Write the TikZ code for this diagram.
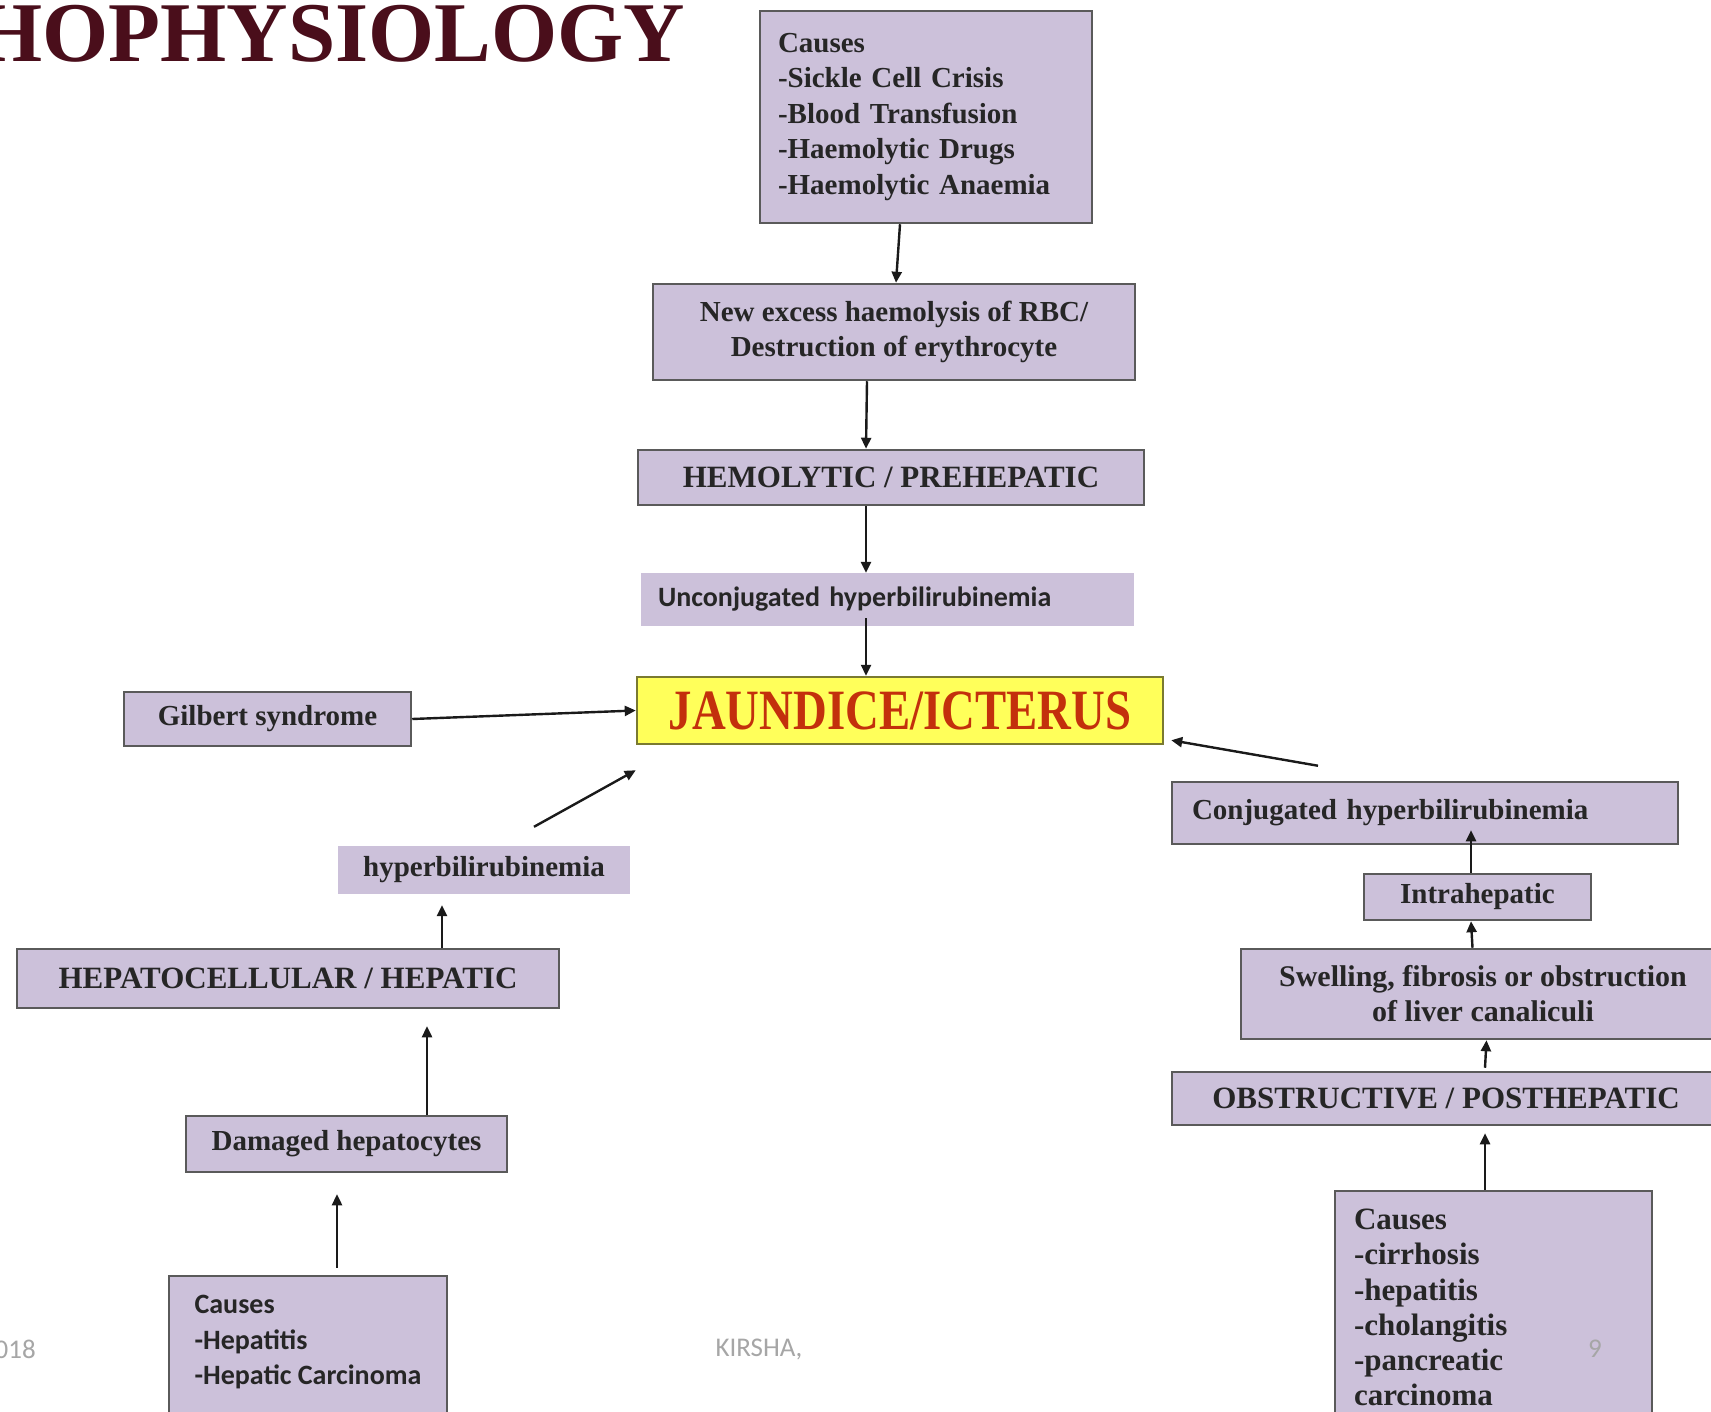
\documentclass[tikz,border=0pt]{standalone}
\usepackage{fontspec}
\setmainfont{Liberation Serif}
\newfontfamily\calib{Carlito}
\newfontfamily\narrowserif[FakeStretch=0.82]{Liberation Serif}
\usetikzlibrary{arrows.meta}
\definecolor{Lavender}   {HTML}{CCC1DA}
\definecolor{EdgeGray}   {HTML}{5A5A5A}
\definecolor{JaunYellow} {HTML}{FFFF5A}
\definecolor{JaunEdge}   {HTML}{7A7A30}
\definecolor{JaunRed}    {HTML}{C3300C}
\definecolor{TitleMaroon}{HTML}{4A0E1B}
\definecolor{FootGray}   {HTML}{A6A6A6}
\definecolor{ArrowBlack} {HTML}{1A1A1A}
\tikzset{
  pbox/.style={rectangle,draw=EdgeGray,line width=2.5pt,fill=Lavender,
               inner sep=0pt,align=center,text=black!85,
               font=\bfseries\fontsize{29}{35.5}\selectfont},
  hbox/.style={pbox,font=\bfseries\fontsize{31}{36}\selectfont},
  lbox/.style={rectangle,fill=Lavender,inner sep=0pt,text=black!85,
               font=\bfseries\fontsize{29}{35.5}\selectfont},
  sanstext/.style={font=\calib\bfseries\fontsize{28}{35.5}\selectfont},
  arr/.style={-{Triangle[length=11pt,width=10pt]},line width=2.4pt,color=ArrowBlack},
  foot/.style={font=\calib\fontsize{27}{30}\selectfont,text=FootGray,inner sep=0pt},
}

\begin{document}
\begin{tikzpicture}[x=1pt,y=-1pt]
  \fill[white] (0,0) rectangle (1711,1412);
  \useasboundingbox (0,0) rectangle (1711,1412);

  \node[font=\bfseries\fontsize{85}{90}\selectfont,text=TitleMaroon,
        anchor=east,inner sep=0pt] (title) at (685,34) {HOPHYSIOLOGY};

  % prehepatic column
  \node[pbox,align=left,text width=296pt,minimum width=332pt,minimum height=212pt]
    (causesTop) at (926,117)
    {Causes\\-Sickle Cell Crisis\\-Blood Transfusion\\-Haemolytic Drugs\\-Haemolytic Anaemia\\[-29pt]\mbox{}};
  \node[pbox,minimum width=482pt,minimum height=96pt] (newExcess) at (894,332)
    {New excess haemolysis of RBC/\\Destruction of erythrocyte};
  \node[hbox,minimum width=506pt,minimum height=55pt] (hemo) at (891,477.5)
    {HEMOLYTIC / PREHEPATIC};
  \node[lbox,sanstext,align=left,text width=459pt,minimum width=493pt,minimum height=53pt]
    (unconj) at (887.5,599.5) {Unconjugated hyperbilirubinemia};

  \node[rectangle,draw=JaunEdge,line width=2.5pt,fill=JaunYellow,inner sep=0pt,
        minimum width=526pt,minimum height=67pt,text=JaunRed,
        font=\narrowserif\bfseries\fontsize{57}{60}\selectfont]
    (jaundice) at (900,710.5) {JAUNDICE/ICTERUS};

  \node[pbox,minimum width=287pt,minimum height=54pt] (gilbert) at (267.5,719)
    {Gilbert syndrome};

  % hepatic column
  \node[lbox,minimum width=292pt,minimum height=48pt] (hyper) at (484,870)
    {hyperbilirubinemia};
  \node[hbox,minimum width=542pt,minimum height=59pt] (hepato) at (288,978.5)
    {HEPATOCELLULAR / HEPATIC};
  \node[pbox,sanstext,align=left,minimum width=278pt,minimum height=199pt]
    (causesLeft) at (308,1375.5)
    {Causes\\-Hepatitis\\-Hepatic Carcinoma\\\mbox{}\\\mbox{}};
  \node[pbox,minimum width=321pt,minimum height=56pt] (damaged) at (346.5,1144)
    {Damaged hepatocytes};

  % posthepatic column
  \node[pbox,align=left,text width=466pt,minimum width=506pt,minimum height=62pt]
    (conj) at (1425,813) {Conjugated hyperbilirubinemia};
  \node[pbox,minimum width=227pt,minimum height=46pt] (intra) at (1477.5,897)
    {Intrahepatic};
  \node[pbox,font=\bfseries\fontsize{30}{35}\selectfont,
        minimum width=484pt,minimum height=90pt] (swell) at (1483,994)
    {Swelling, fibrosis or obstruction\\of liver canaliculi};
  \node[hbox,minimum width=548pt,minimum height=53pt] (obstr) at (1446,1098.5)
    {OBSTRUCTIVE / POSTHEPATIC};
  \node[pbox,align=left,text width=279pt,minimum width=317pt,minimum height=268pt,
        font=\bfseries\fontsize{31}{35.2}\selectfont]
    (causesRight) at (1493.5,1325)
    {Causes\\-cirrhosis\\-hepatitis\\-cholangitis\\-pancreatic\\carcinoma\\\mbox{}};

  \draw[arr] ([xshift=-26pt]causesTop.south) -- ([xshift=2pt]newExcess.north);
  \draw[arr] ([xshift=-27pt]newExcess.south) -- ([xshift=-25pt]hemo.north);
  \draw[arr] ([xshift=-25pt]hemo.south) -- ([xshift=-21.5pt]unconj.north);
  \draw[arr] ([xshift=-21.5pt,yshift=8pt]unconj.south) -- ([xshift=-34pt]jaundice.north);
  \draw[arr] (gilbert.east) -- (jaundice.west);
  \draw[arr] ([xshift=50pt,yshift=19pt]hyper.north) -- ([yshift=-25pt]jaundice.south west);
  \draw[arr] ([xshift=154pt]hepato.north) -- ([xshift=-42pt,yshift=-11pt]hyper.south);
  \draw[arr] ([xshift=80.5pt]damaged.north) -- ([xshift=139pt,yshift=-17pt]hepato.south);
  \draw[arr] ([xshift=29pt,yshift=7pt]causesLeft.north) -- ([xshift=-9.5pt,yshift=-21pt]damaged.south);
  \draw[arr] ([xshift=-107pt,yshift=15pt]conj.north) -- ([xshift=7pt,yshift=5pt]jaundice.south east);
  \draw[arr] ([xshift=-6.5pt]intra.north) -- ([xshift=46pt,yshift=15pt]conj.south);
  \draw[arr] ([xshift=-10.5pt]swell.north) -- ([xshift=-6.5pt]intra.south);
  \draw[arr] ([xshift=39pt,yshift=3pt]obstr.north) -- ([xshift=3.5pt]swell.south);
  \draw[arr] ([xshift=-8.5pt]causesRight.north) -- ([xshift=39pt,yshift=-7pt]obstr.south);

  \node[foot,anchor=east] (date) at (36,1349) {018};
  \node[foot] (author) at (759,1349) {KIRSHA,};
  \node[foot] (page) at (1595,1349) {9};
\end{tikzpicture}
\end{document}
